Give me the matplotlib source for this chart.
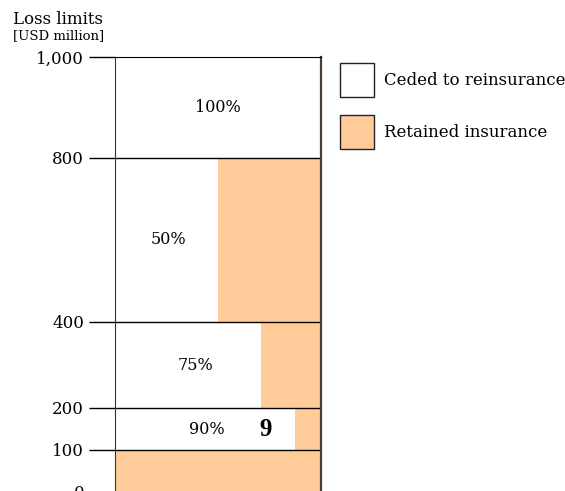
import numpy as np
import matplotlib
matplotlib.use('Agg')
import matplotlib.pyplot as plt
from matplotlib.patches import Patch

# layer boundaries in USD million (bottom -> top)
layer_bottom = [0, 100, 200, 400, 800]
layer_top = [100, 200, 400, 800, 1000]
# share of each layer ceded to reinsurance, as drawn
ceded_share = [0.0, 0.875, 0.71, 0.5, 1.0]
share_labels = ['', '90%', '75%', '50%', '100%']

tick_values = [0, 100, 200, 400, 800, 1000]
tick_labels = ['0', '100', '200', '400', '800', '1,000']

CEDED = '#ffffff'
RETAINED = '#ffcc99'

plt.rcParams['font.family'] = ['DejaVu Serif']

# the original axis is drawn piecewise, not linearly
scale_vals = [0, 100, 200, 400, 800, 1000]
scale_pos = [0, 42, 84, 170, 334, 435]


def fwd(v):
    return np.interp(v, scale_vals, scale_pos)


def inv(p):
    return np.interp(p, scale_pos, scale_vals)


fig = plt.figure(figsize=(5.65, 4.91), dpi=100)
ax = fig.add_axes([115 / 565, 1 - 492 / 491, 206 / 565, (492 - 57) / 491])
ax.set_yscale('function', functions=(fwd, inv))
ax.set_ylim(0, 1000)
ax.set_xlim(0, 1)

for b, t, c in zip(layer_bottom, layer_top, ceded_share):
    ax.barh(b, c, height=t - b, left=0, align='edge', color=CEDED, linewidth=0)
    ax.barh(b, 1 - c, height=t - b, left=c, align='edge', color=RETAINED, linewidth=0)

ax.hlines(layer_bottom[1:], 0, 1, color='black', linewidth=1)

# label positions (axes fraction along x) for each layer
label_x = [0.5, 0.445, 0.39, 0.257, 0.5]
for b, t, lab, lx in zip(layer_bottom, layer_top, share_labels, label_x):
    if lab:
        ym = inv((fwd(b) + fwd(t)) / 2)
        ax.text(lx, ym, lab, ha='center', va='center', fontsize=11.5)

ax.text(0.733, 150, '9', ha='center', va='center', fontsize=18, fontweight='bold',
        family='Liberation Serif')

ax.set_yticks(tick_values)
ax.set_yticklabels(tick_labels, fontsize=12)
ax.set_xticks([])
ax.tick_params(axis='y', length=18.7, width=1, pad=3.6, color='black')
ax.minorticks_off()

ax.spines['bottom'].set_visible(False)
ax.spines['top'].set_color('black')
ax.spines['left'].set_color('#333333')
ax.spines['right'].set_color('#4a3c30')
ax.spines['right'].set_linewidth(1.6)

fig.text(13 / 565, 1 - 19 / 491, 'Loss limits', fontsize=12, va='center', ha='left')
fig.text(13 / 565, 1 - 36 / 491, '[USD million]', fontsize=9.5, va='center', ha='left')

handles = [Patch(facecolor=CEDED, edgecolor='#222222', linewidth=1),
           Patch(facecolor=RETAINED, edgecolor='#222222', linewidth=1)]
fig.legend(handles, ['Ceded to reinsurance', 'Retained insurance'],
           loc='upper left', bbox_to_anchor=(338 / 565, 1 - 61 / 491),
           frameon=False, fontsize=12, handlelength=2.04, handleheight=2.76,
           handletextpad=0.6, labelspacing=1.12, borderaxespad=0, borderpad=0.1)

fig.savefig('out.png', dpi=100)
